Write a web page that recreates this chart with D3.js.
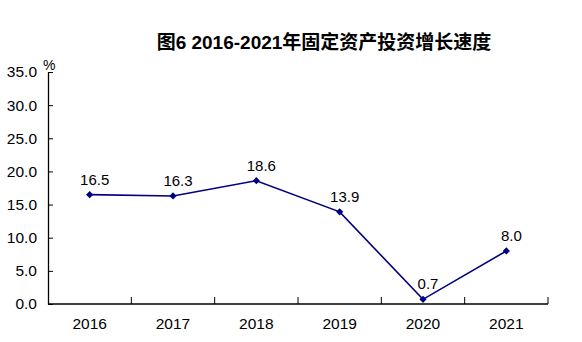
<!DOCTYPE html>
<html>
<head>
<meta charset="utf-8">
<script src="https://cdn.jsdelivr.net/npm/d3@7"></script>
<style>
html,body{margin:0;padding:0;background:#fff;}
svg{display:block;}
</style>
</head>
<body>
<svg id="chart" width="582" height="342"></svg>
<script>
const title = "图6 2016-2021年固定资产投资增长速度";
const years = ["2016","2017","2018","2019","2020","2021"];
const growth = [16.5, 16.3, 18.6, 13.9, 0.7, 8.0];
const yTicks = [0, 5, 10, 15, 20, 25, 30, 35];
const unitLabel = "%";

(function () {
const svg = d3.select("#chart");
const mLeft = 48, mRight = 548, mTop = 72, mBottom = 304;
const font = "Arial, 'Liberation Sans', sans-serif";

const x = d3.scaleBand().domain(years).range([mLeft, mRight]);
const y = d3.scaleLinear().domain([0, 35]).range([mBottom, mTop]);

// title
svg.append("text")
  .attr("x", 324).attr("y", 49)
  .attr("text-anchor", "middle")
  .attr("font-family", "Arial, 'Liberation Sans', 'Noto Sans CJK SC', sans-serif")
  .attr("font-weight", "bold")
  .attr("font-size", 19)
  .attr("fill", "#000")
  .text(title);

// y axis
const yAxis = d3.axisLeft(y).tickValues(yTicks).tickFormat(d3.format(".1f")).tickSizeInner(-5).tickSizeOuter(0).tickPadding(11);
const gy = svg.append("g").attr("transform", `translate(${mLeft},0)`).call(yAxis);
gy.select(".domain").attr("stroke", "#000").attr("stroke-width", 1.3);
gy.selectAll(".tick line").attr("stroke", "#000");
gy.selectAll("text").attr("font-family", font).attr("font-size", 15.5).attr("fill", "#000");

// x axis: ticks at band boundaries
svg.append("line")
  .attr("x1", mLeft).attr("x2", mRight).attr("y1", mBottom).attr("y2", mBottom)
  .attr("stroke", "#000").attr("stroke-width", 1.3);
const bounds = years.map(d => x(d) + x.bandwidth());
svg.append("g").selectAll("line").data(bounds).join("line")
  .attr("x1", d => d).attr("x2", d => d)
  .attr("y1", mBottom).attr("y2", mBottom - 7)
  .attr("stroke", "#000");
svg.append("g").selectAll("text").data(years).join("text")
  .attr("x", d => x(d) + x.bandwidth() / 2)
  .attr("y", 329)
  .attr("text-anchor", "middle")
  .attr("font-family", font).attr("font-size", 15.5).attr("fill", "#000")
  .text(d => d);

// unit label
svg.append("text")
  .attr("x", 43).attr("y", 70)
  .attr("font-family", font).attr("font-size", 14).attr("fill", "#000")
  .text(unitLabel);

// line
const data = years.map((d, i) => ({ year: d, value: growth[i] }));
const cx = d => x(d.year) + x.bandwidth() / 2;
svg.append("path")
  .datum(data)
  .attr("fill", "none")
  .attr("stroke", "#000080")
  .attr("stroke-width", 1.6)
  .attr("d", d3.line().x(cx).y(d => y(d.value)));

svg.append("g").selectAll("path").data(data).join("path")
  .attr("transform", d => `translate(${cx(d)},${y(d.value)}) rotate(45)`)
  .attr("d", d3.symbol().type(d3.symbolSquare).size(26))
  .attr("fill", "#000080");

svg.append("g").selectAll("text").data(data).join("text")
  .attr("x", d => cx(d) + 5)
  .attr("y", d => y(d.value) - 10)
  .attr("text-anchor", "middle")
  .attr("font-family", font).attr("font-size", 15).attr("fill", "#000")
  .text(d => d3.format(".1f")(d.value));
})();
</script>
</body>
</html>
